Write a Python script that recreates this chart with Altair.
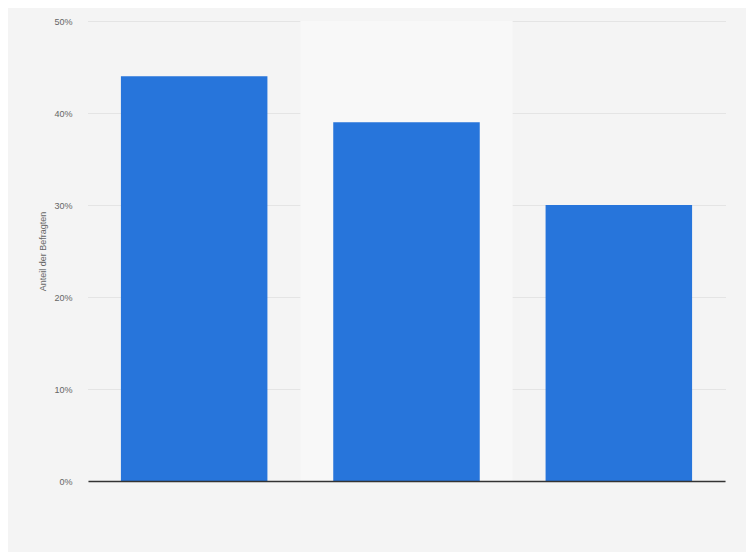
import altair as alt
import pandas as pd

categories = ["Kategorie 1", "Kategorie 2", "Kategorie 3"]
values = [0.44, 0.39, 0.30]
highlight = ["Kategorie 2"]

df = pd.DataFrame({"cat": categories, "val": values})
hl = pd.DataFrame({"cat": highlight, "lo": [0.0], "hi": [0.5]})

xscale = alt.Scale(domain=categories, paddingInner=0, paddingOuter=0)
yscale = alt.Scale(domain=[0, 0.5], nice=False)

xaxis = alt.Axis(labels=False, ticks=False, title=None, domain=True,
                 domainColor="#333333", domainWidth=1.5, grid=False)
yaxis = alt.Axis(format=".0%", values=[0, 0.1, 0.2, 0.3, 0.4, 0.5],
                 title="Anteil der Befragten", titleFontSize=9,
                 titleColor="#666666", titleFontWeight="normal",
                 titleFont="Liberation Sans", titlePadding=6,
                 labelFont="Liberation Sans", labelFontSize=9,
                 labelColor="#666666", labelPadding=16,
                 ticks=False, domain=False, grid=True,
                 gridColor="#d4d4d4", gridDash=[1, 1], gridWidth=1)

band = alt.Chart(hl).mark_rect(color="#f8f8f8").encode(
    x=alt.X("cat:N", scale=xscale, axis=xaxis),
    y=alt.Y("lo:Q", scale=yscale, axis=yaxis),
    y2="hi:Q",
)

bars = alt.Chart(df).mark_bar(
    color="#2775db", width=alt.RelativeBandSize(0.69)
).encode(
    x=alt.X("cat:N", scale=xscale, sort=categories, axis=xaxis),
    y=alt.Y("val:Q", scale=yscale, axis=yaxis),
)

chart = alt.layer(band, bars).properties(
    width=637, height=460,
    autosize=alt.AutoSizeParams(type="none"),
    padding={"left": 80, "top": 13, "right": 21, "bottom": 71},
    background="#f4f4f4",
).configure_view(stroke=None, fill="#f4f4f4")

chart.save("out.html", embed_options={"renderer": "svg", "actions": False})
